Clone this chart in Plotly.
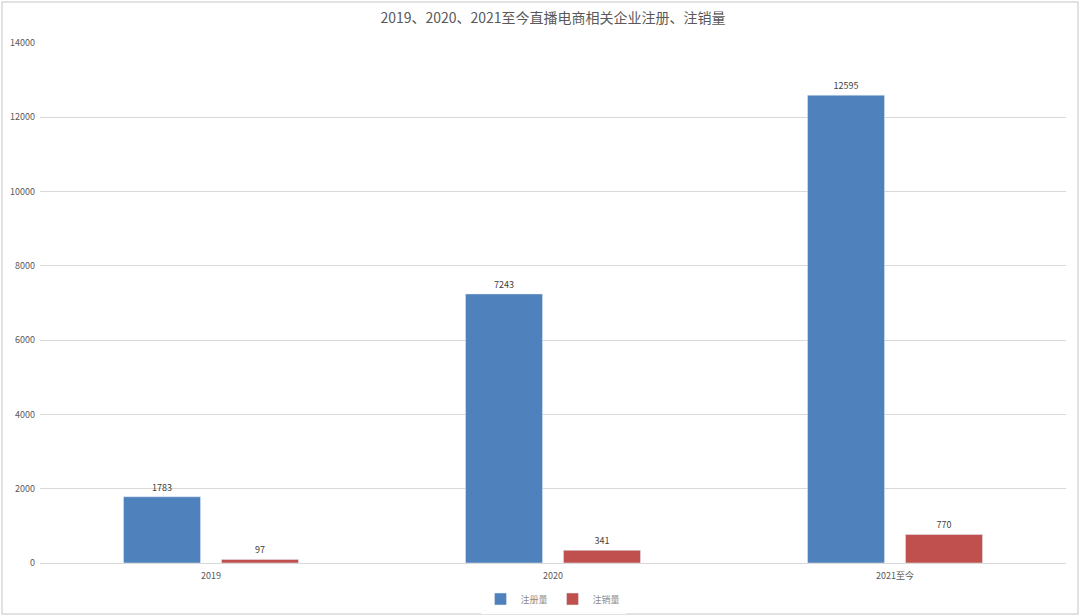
import plotly.graph_objects as go

categories = ["2019", "2020", "2021至今"]
registered = [1783, 7243, 12595]
cancelled = [97, 341, 770]
series_names = ["注册量", "注销量"]
title_text = "2019、2020、2021至今直播电商相关企业注册、注销量"

FONT = "Noto Sans CJK SC, Microsoft YaHei, sans-serif"
W, H = 1080, 616
ML, MR, MT, MB = 40, 14, 43, 53
PW, PH = W - ML - MR, H - MT - MB

fig = go.Figure()
fig.add_trace(go.Bar(
    x=categories, y=registered, name=series_names[0],
    marker=dict(color="#4F81BD"),
    text=registered, textposition="outside",
    textfont=dict(size=9, color="#404040"), cliponaxis=False,
))
fig.add_trace(go.Bar(
    x=categories, y=cancelled, name=series_names[1],
    marker=dict(color="#C0504D"),
    text=cancelled, textposition="outside",
    textfont=dict(size=9, color="#404040"), cliponaxis=False,
))

fig.update_layout(
    width=W, height=H,
    margin=dict(l=ML, r=MR, t=MT, b=MB, autoexpand=False),
    paper_bgcolor="white", plot_bgcolor="white",
    font=dict(family=FONT, color="#595959"),
    title=dict(text=title_text, x=0.5, xanchor="center", xref="paper",
               y=1 - 18 / H, yanchor="middle", yref="container",
               font=dict(size=14, color="#595959", family=FONT)),
    barmode="group", bargap=0.427, bargroupgap=0.214,
    showlegend=True,
    legend=dict(orientation="h", x=0.5, xanchor="center", y=-36 / PH,
                yanchor="middle", font=dict(size=9, color="#8c8c8c"),
                itemwidth=30, traceorder="normal"),
    xaxis=dict(showgrid=False, showline=False, ticks="", tickfont=dict(size=9, color="#595959"),
               zeroline=False, automargin=False, ticklabelstandoff=6),
    yaxis=dict(range=[0, 14000], dtick=2000, showgrid=True, gridcolor="#d9d9d9", gridwidth=1,
               zeroline=True, zerolinecolor="#d9d9d9", zerolinewidth=1, showline=False,
               tickfont=dict(size=9, color="#595959"), ticks="", tickformat="d", automargin=False,
               ticklabelstandoff=4),
)

fig.add_shape(type="rect", xref="paper", yref="paper",
              x0=-(ML - 2) / PW, x1=1 + (MR - 2) / PW,
              y0=-(MB - 2) / PH, y1=1 + (MT - 2) / PH,
              line=dict(color="#d9d9d9", width=1.5), layer="below")

fig.write_html("out.html", config={"displayModeBar": False},
               post_script="document.body.style.margin='0';document.body.style.overflow='hidden';")
